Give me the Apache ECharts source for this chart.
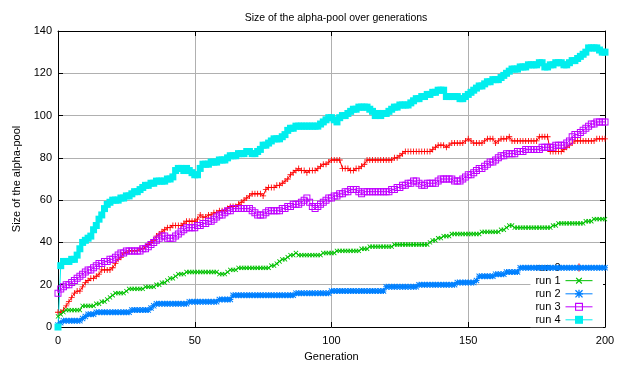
<!DOCTYPE html>
<html>
<head>
<meta charset="utf-8">
<script src="https://cdn.jsdelivr.net/npm/echarts@6/dist/echarts.min.js"></script>
<style>
html,body{margin:0;padding:0;background:#fff;}
#chart{width:621px;height:367px;}
</style>
</head>
<body>
<div id="chart"></div>
<script>
const titleText = 'Size of the alpha-pool over generations';
const xName = 'Generation';
const yName = 'Size of the alpha-pool';
const seriesNames = ['run 0', 'run 1', 'run 2', 'run 3', 'run 4'];
const xTicks = [0, 50, 100, 150, 200];
const yTicks = [0, 20, 40, 60, 80, 100, 120, 140];

const run0 = [
  7,7,8,10,12,14,16,17,17,19,
  21,22,23,23,24,25,27,27,27,27,
  28,30,32,33,35,35,36,36,36,36,
  37,37,38,39,40,41,43,44,45,46,
  47,47,48,48,48,48,49,50,50,50,
  50,51,53,52,52,53,53,54,54,55,
  55,55,56,57,57,57,58,59,60,61,
  62,63,63,63,63,62,65,66,66,66,
  67,67,68,69,70,72,73,74,75,74,
  74,73,74,74,74,75,76,77,77,78,
  79,79,79,79,75,75,75,74,74,75,
  75,76,77,79,79,79,79,79,79,79,
  79,79,79,80,80,81,82,83,83,83,
  83,83,83,83,83,83,83,84,85,86,
  86,86,85,86,87,87,87,87,87,88,
  89,88,87,87,87,87,88,89,89,89,
  87,88,89,89,89,90,88,88,88,88,
  88,88,88,88,88,88,90,90,90,90,
  83,83,83,83,83,84,85,86,87,88,
  88,88,88,88,88,88,88,89,89,89,
  89
];
const run1 = [
  5,6,7,8,8,8,8,8,8,10,
  10,10,10,10,11,11,12,12,13,14,
  15,16,16,16,16,17,18,18,18,18,
  18,18,19,19,19,19,20,20,21,21,
  22,23,23,24,25,25,25,26,26,26,
  26,26,26,26,26,26,26,26,26,25,
  25,25,26,27,27,27,28,28,28,28,
  28,28,28,28,28,28,28,28,29,29,
  30,31,32,32,33,34,34,35,34,34,
  34,34,34,34,34,34,34,35,35,35,
  35,35,36,36,36,36,36,36,36,36,
  36,37,37,37,38,38,38,38,38,38,
  38,38,38,39,39,39,39,39,39,39,
  39,39,39,39,39,39,40,41,41,42,
  42,43,43,43,44,44,44,44,44,44,
  44,44,44,44,44,45,45,45,45,45,
  45,45,46,46,47,48,48,47,47,47,
  47,47,47,47,47,47,47,47,47,47,
  47,48,48,49,49,49,49,49,49,49,
  49,49,49,50,50,50,51,51,51,51,
  51
];
const run2 = [
  1,2,3,3,3,3,3,3,3,4,
  5,6,6,6,7,7,7,7,7,7,
  7,7,7,7,7,7,7,8,8,8,
  8,8,8,8,9,10,11,11,11,11,
  11,11,11,11,11,11,11,11,12,12,
  12,12,12,12,12,12,12,12,12,13,
  13,13,13,13,15,15,15,15,15,15,
  15,15,15,15,15,15,15,15,15,15,
  15,15,15,15,15,15,15,16,16,16,
  16,16,16,16,16,16,16,16,16,16,
  17,17,17,17,17,17,17,17,17,17,
  17,17,17,17,17,17,17,17,17,17,
  19,19,19,19,19,19,19,19,19,19,
  19,19,20,20,20,20,20,20,20,20,
  20,20,20,20,20,20,21,21,21,21,
  21,21,21,22,24,24,24,24,24,24,
  25,25,25,25,26,26,26,26,26,28,
  28,28,28,28,28,28,28,28,28,28,
  28,28,28,28,28,28,28,28,28,28,
  28,28,28,28,28,28,28,28,28,28,
  28
];
const run3 = [
  16,18,19,20,20,21,22,23,24,25,
  26,27,27,28,29,30,30,31,31,32,
  32,33,34,35,35,36,36,36,36,36,
  36,37,37,38,39,40,41,42,43,43,
  42,42,42,43,44,45,46,47,47,47,
  47,48,48,49,49,50,50,51,52,53,
  53,54,55,55,56,56,56,56,56,56,
  56,55,54,53,53,53,54,55,55,55,
  55,55,56,56,57,57,58,58,58,59,
  60,61,59,57,56,57,58,59,60,61,
  61,62,62,63,63,64,64,65,65,65,
  64,63,64,64,64,64,64,64,64,64,
  64,64,65,65,66,66,67,67,68,68,
  69,69,68,67,67,68,68,68,68,69,
  70,70,70,70,70,69,69,69,70,71,
  72,72,73,74,75,75,76,77,78,78,
  79,80,81,81,82,82,82,82,83,83,
  83,84,84,84,84,84,84,85,85,85,
  85,85,86,86,86,86,87,88,90,91,
  91,92,93,94,95,96,96,97,97,97,
  97
];
const run4 = [
  0,29,31,31,31,32,32,34,37,40,
  41,42,43,46,48,51,53,56,58,59,
  60,60,60,61,61,62,62,63,64,64,
  65,66,67,67,68,68,69,69,69,69,
  70,70,71,74,75,75,74,75,74,73,
  72,72,75,77,77,77,78,78,78,79,
  79,79,80,81,81,81,82,82,82,83,
  83,82,82,83,84,86,86,87,88,89,
  89,89,90,91,93,94,94,95,95,95,
  95,95,95,95,95,95,96,97,98,99,
  99,98,97,99,100,100,101,102,103,103,
  104,104,104,104,103,102,100,101,100,101,
  101,102,103,104,104,105,105,105,105,106,
  107,108,108,109,109,110,110,111,111,112,
  112,112,109,109,109,109,109,108,108,109,
  110,111,112,113,114,114,115,116,116,117,
  117,117,118,119,120,121,122,122,122,123,
  123,123,124,124,124,124,125,125,123,123,
  124,124,125,125,125,124,124,125,126,126,
  127,128,129,130,132,132,132,132,131,130,
  130
];
const allRuns = [run0, run1, run2, run3, run4];
const colors = ['#ff0000', '#00c000', '#0080ff', '#c000ff', '#00eeee'];

const PLUS = 'path://M3,0H4V3H7V4H4V7H3V4H0V3H3Z';
const STAR = 'path://M2.5,0H3.5V6H2.5Z M0,2.5H6V3.5H0Z M0,0.7L0.7,0L6,5.3L5.3,6Z M5.3,0L6,0.7L0.7,6L0,5.3Z';
const OPENSQ = 'path://M0,0H7V7H0Z M1,1V6H6V1Z';
const symbols = [PLUS, PLUS, STAR, OPENSQ, 'rect'];
const symbolSizes = [6, 6, 6, 7, 7];
const symbolRotates = [0, 45, 0, 0, 0];

const FONT = 'Liberation Sans';

const series = seriesNames.map((name, i) => ({
  name: name,
  type: 'line',
  data: allRuns[i].map((v, g) => [g, v]),
  xAxisIndex: 0,
  yAxisIndex: 0,
  symbol: symbols[i],
  symbolSize: symbolSizes[i],
  symbolRotate: symbolRotates[i],
  showSymbol: true,
  showAllSymbol: true,
  clip: false,
  z: 2,
  lineStyle: { color: colors[i], width: 1 },
  itemStyle: { color: colors[i] },
  emphasis: { disabled: true }
}));

const chart = echarts.init(document.getElementById('chart'), null, { renderer: 'canvas' });
chart.setOption({
  animation: false,
  backgroundColor: '#fff',
  title: {
    text: titleText,
    left: 331,
    textAlign: 'center',
    top: 8,
    textStyle: { fontFamily: FONT, fontSize: 10.5, fontWeight: 'normal', color: '#000' }
  },
  legend: {
    data: seriesNames,
    orient: 'vertical',
    right: 18,
    top: 260,
    align: 'right',
    itemWidth: 27,
    itemHeight: 10,
    itemGap: 2,
    padding: [2, 10, 2, 5],
    backgroundColor: '#fff',
    z: 1,
    selectedMode: false,
    lineStyle: { width: 1 },
    textStyle: { fontFamily: FONT, fontSize: 11, color: '#000', padding: [0, 0, 0, 0] }
  },
  grid: { left: 58, right: 16, top: 31, bottom: 38, containLabel: false },
  xAxis: [{
    type: 'value',
    position: 'bottom',
    min: xTicks[0],
    max: xTicks[xTicks.length - 1],
    interval: xTicks[1] - xTicks[0],
    name: xName,
    nameLocation: 'middle',
    nameGap: 24,
    nameTextStyle: { fontFamily: FONT, fontSize: 11, color: '#000' },
    axisLine: { show: true, onZero: false, lineStyle: { color: '#000', width: 1 } },
    axisTick: { show: true, inside: true, length: 5, lineStyle: { color: '#000' } },
    axisLabel: { fontFamily: FONT, fontSize: 11, color: '#000', margin: 8 },
    splitLine: { show: true, lineStyle: { color: '#b0b0b0', width: 1 } }
  }, {
    type: 'value',
    position: 'top',
    min: xTicks[0],
    max: xTicks[xTicks.length - 1],
    interval: xTicks[1] - xTicks[0],
    axisLine: { show: true, onZero: false, lineStyle: { color: '#000', width: 1 } },
    axisTick: { show: true, inside: true, length: 5, lineStyle: { color: '#000' } },
    axisLabel: { show: false },
    splitLine: { show: false }
  }],
  yAxis: [{
    type: 'value',
    position: 'left',
    min: yTicks[0],
    max: yTicks[yTicks.length - 1],
    interval: yTicks[1] - yTicks[0],
    name: yName,
    nameLocation: 'middle',
    nameGap: 35,
    nameTextStyle: { fontFamily: FONT, fontSize: 11, color: '#000' },
    axisLine: { show: true, onZero: false, lineStyle: { color: '#000', width: 1 } },
    axisTick: { show: true, inside: true, length: 5, lineStyle: { color: '#000' } },
    axisLabel: { fontFamily: FONT, fontSize: 11, color: '#000', margin: 6 },
    splitLine: { show: true, lineStyle: { color: '#b0b0b0', width: 1 } }
  }, {
    type: 'value',
    position: 'right',
    min: yTicks[0],
    max: yTicks[yTicks.length - 1],
    interval: yTicks[1] - yTicks[0],
    axisLine: { show: true, onZero: false, lineStyle: { color: '#000', width: 1 } },
    axisTick: { show: true, inside: true, length: 5, lineStyle: { color: '#000' } },
    axisLabel: { show: false },
    splitLine: { show: false }
  }],
  series: series
});
</script>
</body>
</html>
